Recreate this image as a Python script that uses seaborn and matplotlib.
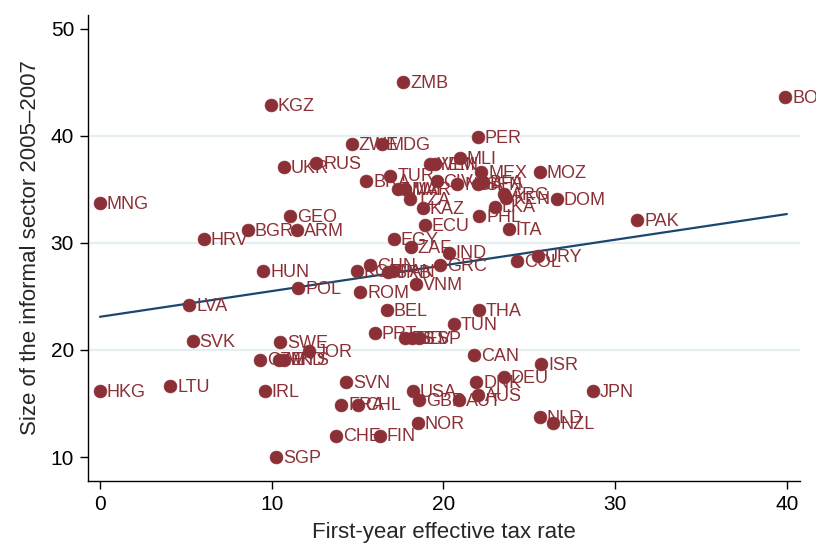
import numpy as np
import pandas as pd
import matplotlib
matplotlib.use("Agg")
import matplotlib.pyplot as plt
import seaborn as sns

# country codes, first-year effective tax rate, informal sector size
countries = [
    "MNG", "HKG", "LTU", "SVK", "LVA", "HRV", "BGR", "HUN", "KGZ", "SGP",
    "IRL", "CZE", "MKD", "MYS", "SWE", "UKR", "GEO", "ARM", "POL", "JOR",
    "RUS", "CHE", "FRA", "SVN", "ZWE", "KOR", "CHL", "ROM", "BRA", "CHN",
    "PRT", "FIN", "MDG", "BEL", "SRB", "TUR", "PAN", "EGY", "MWI", "ZMB",
    "MAR", "EST", "TZA", "ZAF", "SLV", "USA", "NOR", "VNM", "ESP", "GBR",
    "KAZ", "ECU", "YEM", "VEN", "CIV", "GRC", "IND", "TUN", "NGA", "AUT",
    "MLI", "CAN", "DNK", "PER", "SEN", "AUS", "THA", "PHL", "MEX", "BFA",
    "LKA", "DEU", "ARG", "KEN", "ITA", "COL", "URY", "NLD", "MOZ", "ISR",
    "NZL", "DOM", "JPN", "PAK", "BOL",
]
tax_rate = [
    0.0, 0.0, 4.1, 5.4, 5.2, 6.05, 8.6, 9.5, 9.95, 10.25,
    9.6, 9.3, 10.4, 10.7, 10.5, 10.7, 11.05, 11.5, 11.55, 12.2,
    12.6, 13.75, 14.05, 14.35, 14.65, 14.95, 15.05, 15.15, 15.5, 15.75,
    16.0, 16.3, 16.4, 16.7, 16.75, 16.9, 17.05, 17.1, 17.35, 17.65,
    17.75, 17.75, 18.05, 18.1, 18.15, 18.2, 18.5, 18.4, 18.55, 18.6,
    18.8, 18.9, 19.2, 19.5, 19.6, 19.8, 20.3, 20.6, 20.8, 20.9,
    20.95, 21.8, 21.9, 22.0, 22.0, 22.0, 22.05, 22.1, 22.2, 22.3,
    23.0, 23.5, 23.5, 23.65, 23.8, 24.3, 25.5, 25.6, 25.6, 25.7,
    26.4, 26.6, 28.7, 31.3, 39.9,
]
informal_size = [
    33.7, 16.2, 16.6, 20.8, 24.2, 30.4, 31.2, 27.4, 42.9, 10.0,
    16.2, 19.1, 19.1, 19.1, 20.7, 37.1, 32.5, 31.2, 25.8, 19.9,
    37.5, 12.0, 14.9, 17.0, 39.2, 27.4, 14.9, 25.4, 35.8, 27.9,
    21.6, 12.0, 39.2, 23.7, 27.3, 36.3, 27.4, 30.4, 35.0, 45.0,
    35.0, 21.1, 34.1, 29.6, 21.1, 16.2, 13.2, 26.2, 21.1, 15.3,
    33.3, 31.7, 37.4, 37.4, 35.8, 27.9, 29.1, 22.4, 35.5, 15.3,
    37.9, 19.5, 17.0, 39.9, 35.5, 15.8, 23.7, 32.5, 36.6, 35.7,
    33.4, 17.45, 34.6, 34.2, 31.3, 28.3, 28.8, 13.7, 36.6, 18.7,
    13.2, 34.1, 16.2, 32.1, 43.6,
]

# fitted line as shown
fit_intercept = 23.1
fit_slope = 0.24
fit_x = [0, 40]

marker_color = "#8b3036"
line_color = "#1a476f"

df = pd.DataFrame({"country": countries, "tax": tax_rate, "informal": informal_size})
fit_df = pd.DataFrame({"tax": fit_x})
fit_df["informal"] = fit_intercept + fit_slope * fit_df["tax"]

sns.set_style("white")
plt.rcParams["font.family"] = ["Liberation Sans", "DejaVu Sans"]

fig = plt.figure(figsize=(8.16, 5.48), dpi=100)
ax = fig.add_axes([0.1078, 0.1223, 0.8725, 0.8504])

for y in [20, 30, 40]:
    ax.axhline(y, color="#e6efef", lw=1.6, zorder=0)

sns.lineplot(data=fit_df, x="tax", y="informal", color=line_color, lw=1.6, ax=ax, zorder=2)
sns.scatterplot(data=df, x="tax", y="informal", color=marker_color, s=85,
                edgecolor=marker_color, linewidth=0.5, ax=ax, zorder=3)

for _, row in df.iterrows():
    ax.annotate(row["country"], (row["tax"], row["informal"]), xytext=(5, -1),
                textcoords="offset points", va="center", ha="left",
                fontsize=13, color=marker_color, annotation_clip=False, zorder=4)

ax.set_xlim(-0.70, 40.76)
ax.set_ylim(7.76, 51.3)
ax.set_xticks([0, 10, 20, 30, 40])
ax.set_yticks([10, 20, 30, 40, 50])
ax.tick_params(axis="both", direction="out", length=6, width=1, labelsize=15,
               colors="black", bottom=True, left=True, pad=4)
ax.set_xlabel("First-year effective tax rate", fontsize=16, labelpad=6)
ax.set_ylabel("Size of the informal sector 2005\u20132007", fontsize=16, labelpad=7)

sns.despine(ax=ax)
for side in ["left", "bottom"]:
    ax.spines[side].set_color("black")
    ax.spines[side].set_linewidth(1)

fig.savefig("out.png", dpi=100)
